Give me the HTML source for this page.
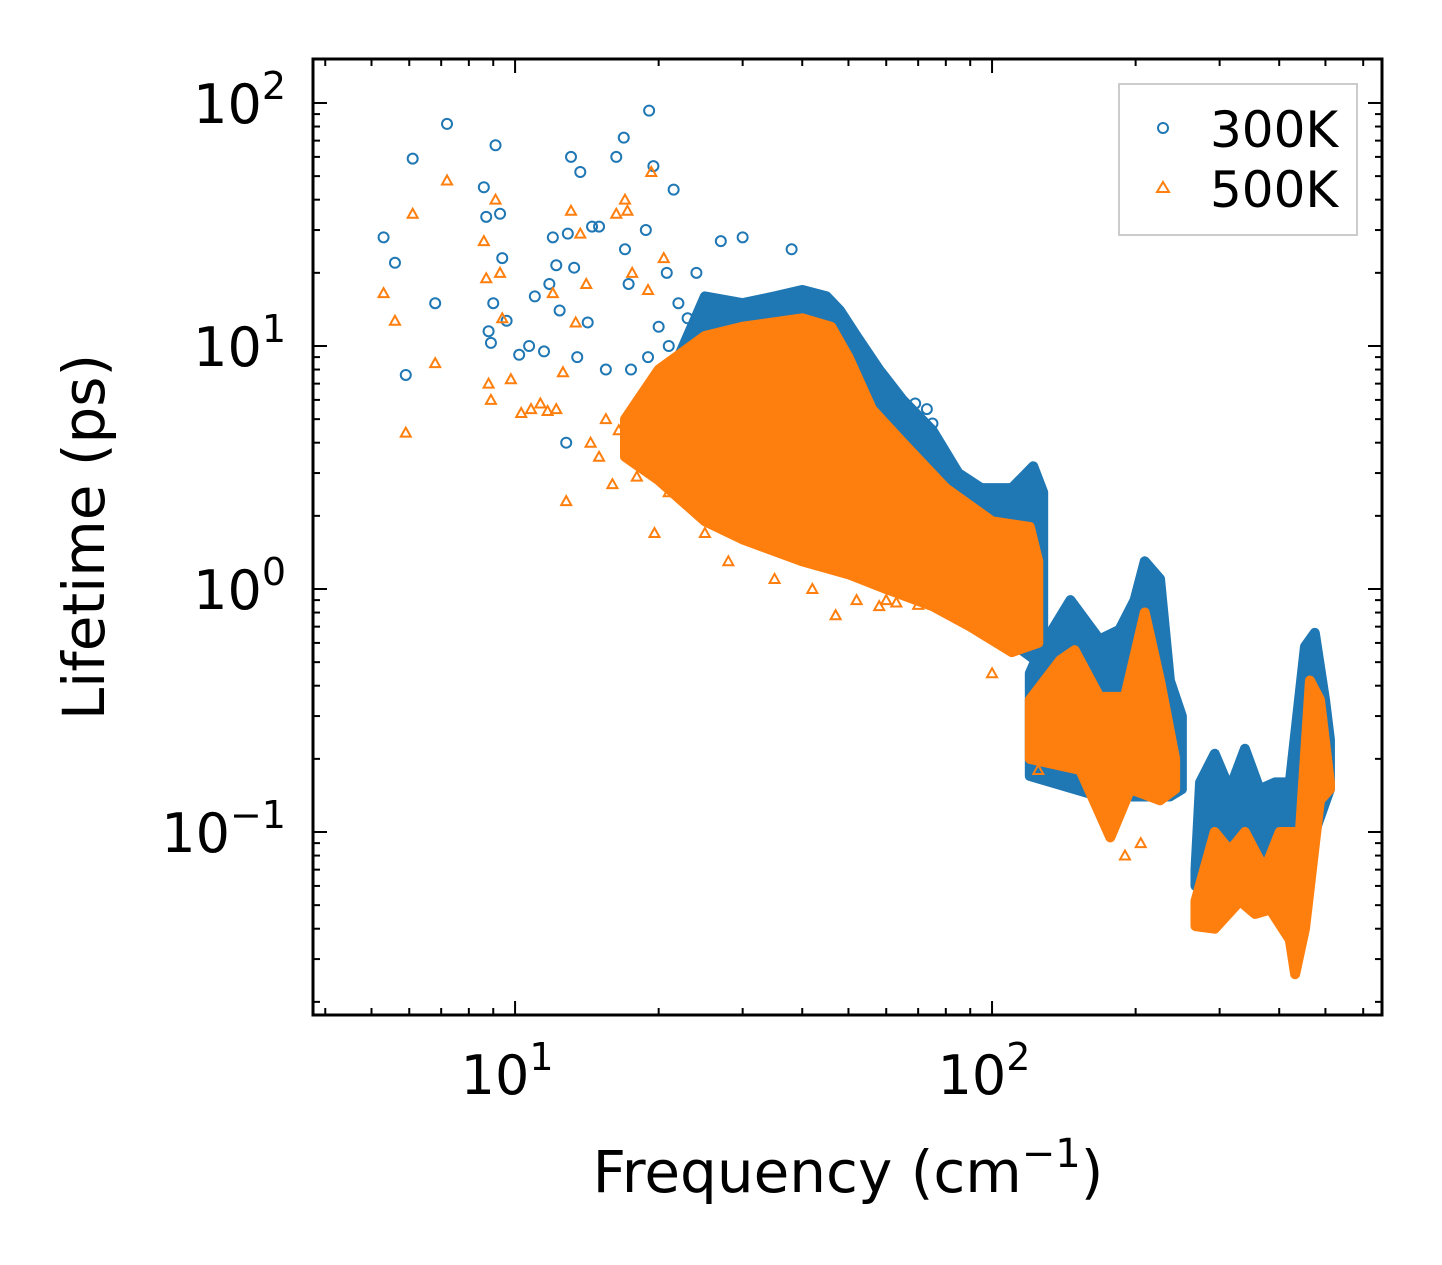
<!DOCTYPE html>
<html><head><meta charset="utf-8"><style>
body{margin:0;background:#fff}
svg{display:block;font-family:"DejaVu Sans","Liberation Sans",sans-serif}
</style></head><body>
<svg id="chart" width="1442" height="1265" viewBox="0 0 1442 1265" xmlns="http://www.w3.org/2000/svg">
<rect width="1442" height="1265" fill="#fff"/>
<g id="plot"></g>
<g id="axes"></g>
<text x="848" y="1192" font-size="58" text-anchor="middle">Frequency (cm<tspan font-size="40" dy="-25">−1</tspan><tspan dy="25">)</tspan></text>
<text transform="translate(104,537) rotate(-90)" font-size="58" text-anchor="middle">Lifetime (ps)</text>
<g>
<rect x="1119" y="84" width="238" height="151" fill="#fff" stroke="#ccc" stroke-width="2"/>
<circle cx="1163" cy="128" r="5" fill="none" stroke="#1f77b4" stroke-width="2"/>
<text x="1210" y="147" font-size="50">300K</text>
<polygon points="1163,182 1169,192 1157,192" fill="none" stroke="#ff7f0e" stroke-width="2"/>
<text x="1210" y="207" font-size="50">500K</text>
</g>
</svg>
<script>
// Dense-region envelopes [freq, lifetime]
const blueUpper1=[[22,9],[25,16],[30,15],[35,16],[40,17],[45,16],[48,14],[52,11],[58,8],[65,6],[75,4.5],[85,3],[95,2.6],[110,2.6],[122,3.2],[128,2.5]];
const blueLower1=[[22,4],[30,2],[40,1.5],[50,1.4],[60,1.1],[75,0.9],[90,0.75],[110,0.6],[125,0.5],[128,0.5]];
const orangeUpper1=[[17,5],[20,8],[25,11],[30,12],[40,13],[46,12],[50,9],[56,5.5],[65,4],[80,2.6],[100,1.9],[120,1.8],[125,1.3]];
const orangeLower1=[[17,3.5],[20,2.8],[25,1.9],[30,1.6],[40,1.3],[50,1.15],[60,1.0],[75,0.85],[90,0.7],[110,0.55],[125,0.6]];
const blueUpper2=[[120,0.45],[126,0.56],[146,0.9],[168,0.62],[185,0.68],[199,0.9],[209,1.3],[225,1.1],[236,0.42],[250,0.3]];
const blueLower2=[[120,0.17],[168,0.14],[236,0.14],[250,0.15]];
const orangeUpper2=[[120,0.35],[139,0.51],[149,0.56],[168,0.36],[190,0.36],[209,0.8],[225,0.42],[242,0.2]];
const orangeLower2=[[120,0.2],[153,0.18],[177,0.095],[195,0.15],[225,0.135],[242,0.15]];
const blueUpper3=[[267,0.07],[273,0.16],[293,0.21],[315,0.15],[339,0.22],[364,0.15],[392,0.16],[421,0.16],[453,0.58],[475,0.66],[499,0.35],[511,0.24]];
const blueLower3=[[267,0.06],[315,0.08],[364,0.08],[421,0.08],[475,0.1],[511,0.15]];
const orangeUpper3=[[267,0.052],[293,0.1],[315,0.084],[339,0.1],[373,0.07],[401,0.1],[442,0.1],[464,0.42],[487,0.35],[511,0.16]];
const orangeLower3=[[267,0.041],[293,0.04],[331,0.052],[356,0.046],[383,0.048],[421,0.036],[432,0.026],[453,0.04],[487,0.135],[511,0.15]];
// Sparse points
const blueF=[5.3,5.6,5.9,6.1,6.8,7.2,8.6,8.7,8.8,8.9,9.0,9.1,9.3,9.4,9.6,10.2,10.7,11,11.5,11.8,12,12.2,12.4,12.8,12.9,13.1,13.3,13.7,14.2,14.5,15,16.3,16.9,17,17.3,18.8,19.1,19.5,20.8,21.5,22,17.5,15.5,13.5,27,30,38,63,73,75,69,20,21,23,19,24];
const blueL=[28,22,7.6,59,15,82,45,34,11.5,10.3,15,67,35,23,12.7,9.2,10,16,9.5,18,28,21.5,14,4,29,60,21,52,12.5,31,31,60,72,25,18,30,93,55,20,44,15,8,8,9,27,28,25,4,5.5,4.8,5.8,12,10,13,9,20];
const orangeF=[5.3,5.6,5.9,6.1,6.8,7.2,8.6,8.7,8.8,8.9,9.1,9.3,9.4,9.8,10.3,10.8,11.3,11.7,12,12.2,12.6,12.8,13.1,13.4,13.7,14.1,14.4,15,16.3,17,17.2,17.6,19,19.3,19.6,20.5,16,18,21,25,28,35,42,47,52,58,63,70,60,100,123,125,190,205,15.5,16.5];
const orangeL=[16.5,12.7,4.4,35,8.5,48,27,19,7,6,40,20,13,7.3,5.3,5.5,5.8,5.4,16.5,5.5,7.8,2.3,36,12.5,29,18,4,3.5,35,40,36,20,17,52,1.7,23,2.7,2.9,2.5,1.7,1.3,1.1,1.0,0.78,0.9,0.85,0.88,0.86,0.9,0.45,0.235,0.18,0.08,0.09,5,4.5];
const xTicks=[10,100];
const yTicks=[100,10,1,0.1];
const yTickLabels=["2","1","0","−1"];

const X0=313,X1=1382,Y0=59,Y1=1015;
const lx0=Math.log10(3.77),lx1=Math.log10(657),ly0=Math.log10(0.01766),ly1=Math.log10(151.7);
const xs=f=>X0+(Math.log10(f)-lx0)/(lx1-lx0)*(X1-X0);
const ys=v=>Y1-(Math.log10(v)-ly0)/(ly1-ly0)*(Y1-Y0);
const NS="http://www.w3.org/2000/svg";
const plot=document.getElementById('plot'),axes=document.getElementById('axes');
function mk(tag,attrs,parent){const e=document.createElementNS(NS,tag);for(const k in attrs)e.setAttribute(k,attrs[k]);parent.appendChild(e);return e;}
function band(up,lo,color,name){
  const pts=up.map(p=>xs(p[0])+','+ys(p[1])).concat(lo.slice().reverse().map(p=>xs(p[0])+','+ys(p[1])));
  const e=mk('polygon',{points:pts.join(' '),fill:color,stroke:color,'stroke-width':10,'stroke-linejoin':'round'},plot);
  
  
}
function circles(F,L){for(let i=0;i<F.length;i++){const e=mk('circle',{cx:xs(F[i]),cy:ys(L[i]),r:5,fill:'none',stroke:'#1f77b4','stroke-width':2},plot);
  
  }}
function tris(F,L){for(let i=0;i<F.length;i++){const x=xs(F[i]),y=ys(L[i]);const e=mk('polygon',{points:`${x},${y-5} ${x+5},${y+4} ${x-5},${y+4}`,fill:'none',stroke:'#ff7f0e','stroke-width':2},plot);
  
  }}
band(blueUpper1,blueLower1,'#1f77b4','band-300k-low');
band(blueUpper2,blueLower2,'#1f77b4','band-300k-mid');
band(blueUpper3,blueLower3,'#1f77b4','band-300k-high');
circles(blueF,blueL);
band(orangeUpper1,orangeLower1,'#ff7f0e','band-500k-low');
band(orangeUpper2,orangeLower2,'#ff7f0e','band-500k-mid');
band(orangeUpper3,orangeLower3,'#ff7f0e','band-500k-high');
tris(orangeF,orangeL);
const fr=mk('rect',{x:X0,y:Y0,width:X1-X0,height:Y1-Y0,fill:'none',stroke:'#000','stroke-width':3},axes);


for(let d=1;d<=700;d*=10){for(let m=1;m<10;m++){const f=d*m;if(f<3.77||f>657)continue;const x=xs(f);const len=m===1?14:7;
  mk('line',{x1:x,x2:x,y1:Y1,y2:Y1-len,stroke:'#000','stroke-width':2},axes);
  mk('line',{x1:x,x2:x,y1:Y0,y2:Y0+len,stroke:'#000','stroke-width':2},axes);}}
xTicks.forEach((t,i)=>{const e=mk('text',{x:xs(t)-8,y:1094,'font-size':54,'text-anchor':'middle'},axes);e.innerHTML='10<tspan font-size="38" dy="-24">'+(i+1)+'</tspan>';
  
  });
for(let d=0.01;d<=200;d*=10){for(let m=1;m<10;m++){const v=d*m;if(v<0.0177||v>151)continue;const y=ys(v);const len=m===1?14:7;
  mk('line',{x1:X0,x2:X0+len,y1:y,y2:y,stroke:'#000','stroke-width':2},axes);
  mk('line',{x1:X1,x2:X1-len,y1:y,y2:y,stroke:'#000','stroke-width':2},axes);}}
yTicks.forEach((t,i)=>{const e=mk('text',{x:286,y:ys(t)+20,'font-size':54,'text-anchor':'end'},axes);e.innerHTML='10<tspan font-size="38" dy="-24">'+yTickLabels[i]+'</tspan>';
  
  });
</script>
</body></html>
